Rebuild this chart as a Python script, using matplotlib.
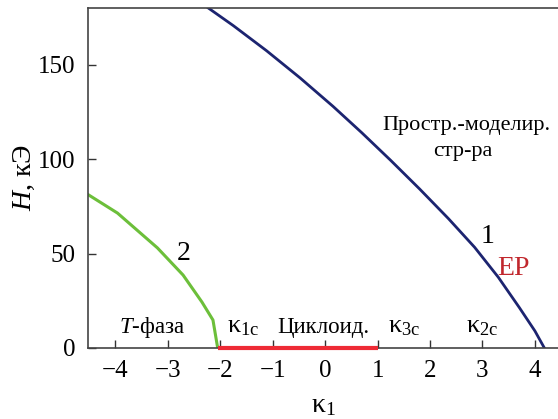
import matplotlib
matplotlib.use('Agg')
import matplotlib.pyplot as plt

plt.rcParams['font.family'] = ['Liberation Serif', 'DejaVu Serif']
plt.rcParams['mathtext.fontset'] = 'custom'
plt.rcParams['mathtext.rm'] = 'Liberation Serif'
plt.rcParams['mathtext.it'] = 'Liberation Serif:italic'

# curve 1 (blue), boundary of spatially modulated structure
k_1 = [-2.23, -1.75, -1.12, -0.48, 0.15, 0.7, 1.25, 1.8, 2.35, 2.85, 3.3, 3.7, 4.0, 4.18]
h_1 = [180, 170.6, 157.4, 143.0, 127.9, 113.9, 99.3, 84.2, 68.5, 53.3, 37.5, 21.5, 9.0, 0]

# curve 2 (green), T-phase boundary
k_2 = [-4.51, -3.96, -3.2, -2.71, -2.35, -2.14, -2.05]
h_2 = [81, 71.4, 53, 38.6, 24.3, 14.8, 0]

# cycloid interval on the axis (red)
k_cyc = [-2.05, 1.0]
h_cyc = [0, 0]

x_ticks = [-4, -3, -2, -1, 0, 1, 2, 3, 4]
y_ticks = [0, 50, 100, 150]

fig = plt.figure(figsize=(5.58, 4.19), dpi=100)
ax = fig.add_axes([0.158, 0.1695, 0.842, 0.8115])

ax.plot(k_1, h_1, color='#1c2470', lw=2)
ax.plot(k_2, h_2, color='#6cbf3a', lw=2.2)
ax.plot(k_cyc, h_cyc, color='#ee2a35', lw=3, solid_capstyle='butt', zorder=5, clip_on=False)

ax.set_xlim(-4.52, 4.44)
ax.set_ylim(0, 180)
ax.set_xticks(x_ticks)
ax.set_xticklabels(['\u2212' + str(-v) if v < 0 else str(v) for v in x_ticks])
ax.set_yticks(y_ticks)
ax.tick_params(direction='in', length=6, width=1, labelsize=18, color='#333333', pad=9)
for s in ['left', 'top', 'bottom']:
    ax.spines[s].set_color('#444444')
    ax.spines[s].set_linewidth(1.2)
ax.spines['right'].set_visible(False)

ax.set_xlabel('κ$_1$', fontsize=20, labelpad=8)
ax.set_ylabel('$H$, кЭ', fontsize=20, labelpad=1)

ax.text(-2.7, 50, '2', fontsize=20, ha='center', va='center')
ax.text(3.1, 59, '1', fontsize=20, ha='center', va='center')
ax.text(3.6, 42, 'EP', fontsize=20, color='#c1272d', ha='center', va='center')
ax.text(2.7, 118, 'Простр.-моделир.', fontsize=16, ha='center', va='center')
ax.text(2.62, 104, 'стр-ра', fontsize=16, ha='center', va='center')
ax.text(-3.3, 11, '$T$-фаза', fontsize=16.5, ha='center', va='center')
ax.text(-1.57, 11, 'κ$_{\\mathrm{1c}}$', fontsize=19, ha='center', va='center')
ax.text(-0.03, 11, 'Циклоид.', fontsize=16.5, ha='center', va='center')
ax.text(1.51, 11, 'κ$_{\\mathrm{3c}}$', fontsize=19, ha='center', va='center')
ax.text(3.0, 11, 'κ$_{\\mathrm{2c}}$', fontsize=19, ha='center', va='center')

fig.savefig('out.png', dpi=100)
